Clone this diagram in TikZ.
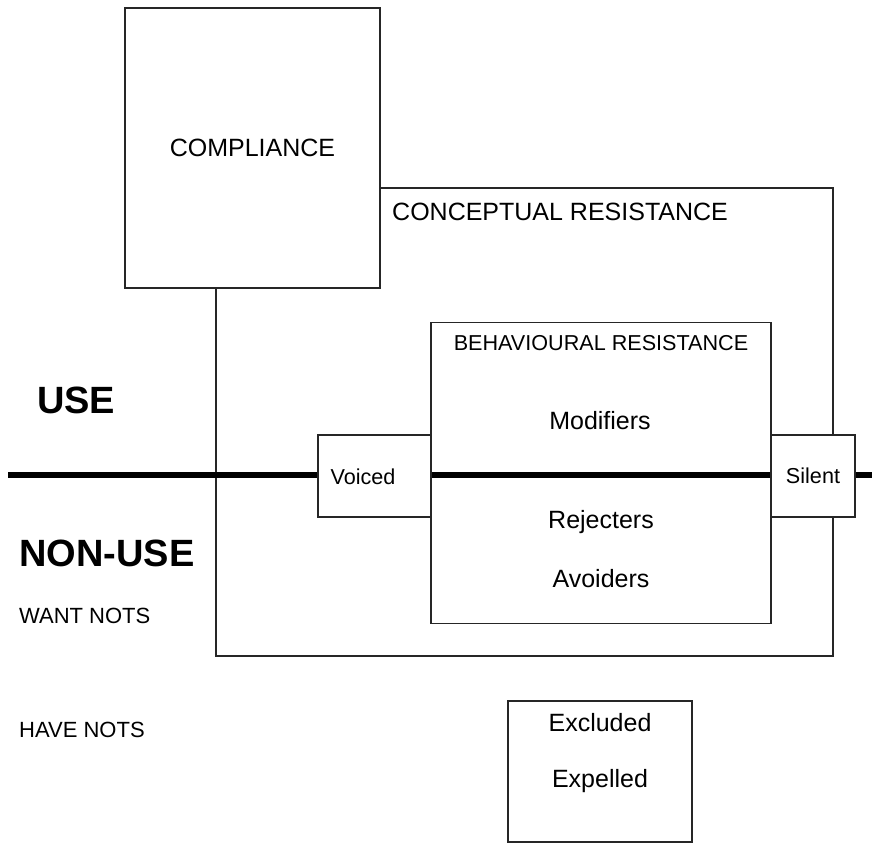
\documentclass[tikz,border=0pt]{standalone}
\usepackage{fontspec}
\setmainfont{Liberation Sans}
\begin{document}
\begin{tikzpicture}[x=1pt,y=-1pt,
  frame/.style={draw=black!85,line width=1.3pt,inner sep=0pt,outer sep=0pt},
  whitebox/.style={frame,fill=white},
  txt/.style={inner sep=0pt,font=\fontsize{#1}{#1}\selectfont},
  txt/.default=25,
  bold/.style={inner sep=0pt,font=\fontsize{38}{38}\selectfont\bfseries},
  divider/.style={line width=6pt,black}]
\useasboundingbox (0,0) rectangle (872,843);

% outer region of conceptual resistance
\node[frame,minimum width=617,minimum height=468] (concept) at (524.5,422) {};
% behavioural resistance region
\node[frame,minimum width=340,minimum height=301] (behav) at (601,473) {};

% use / non-use divider
\coordinate (lineL) at (8,475);
\coordinate (lineR) at (872,475);
\draw[divider] (lineL) -- (lineR);

% boxes sitting on the divider
\node[whitebox,minimum width=113,minimum height=82] (voiced) at (374.5,476) {};
\node[whitebox,minimum width=84,minimum height=82,txt=21.6] (silent) at (813,476) {Silent};

% compliance box on top
\node[whitebox,minimum width=255,minimum height=280,txt] (compliance) at (252.5,148) {COMPLIANCE};

% excluded / expelled box
\node[frame,minimum width=184,minimum height=141] (excl) at (600,771.5) {};

% labels
\node[txt,anchor=west] (conlabel) at (392,212) {CONCEPTUAL RESISTANCE};
\node[txt=21.6] (behlabel) at (601,343) {BEHAVIOURAL RESISTANCE};
\node[txt=21.6] (voicedlabel) at (363,477) {Voiced};
\node[txt] (modifiers) at (600,421) {Modifiers};
\node[txt] (rejecters) at (601,522) {Rejecters};
\node[txt] (avoiders) at (601,579) {Avoiders};
\node[txt] (excluded) at (600,723) {Excluded};
\node[txt] (expelled) at (600,781) {Expelled};

\node[bold,anchor=west] (use) at (37,400) {USE};
\node[bold,anchor=west] (nonuse) at (19,553) {NON-USE};
\node[txt=22,anchor=west] (wantnots) at (19,616) {WANT NOTS};
\node[txt=22,anchor=west] (havenots) at (19,730) {HAVE NOTS};
\end{tikzpicture}
\end{document}
